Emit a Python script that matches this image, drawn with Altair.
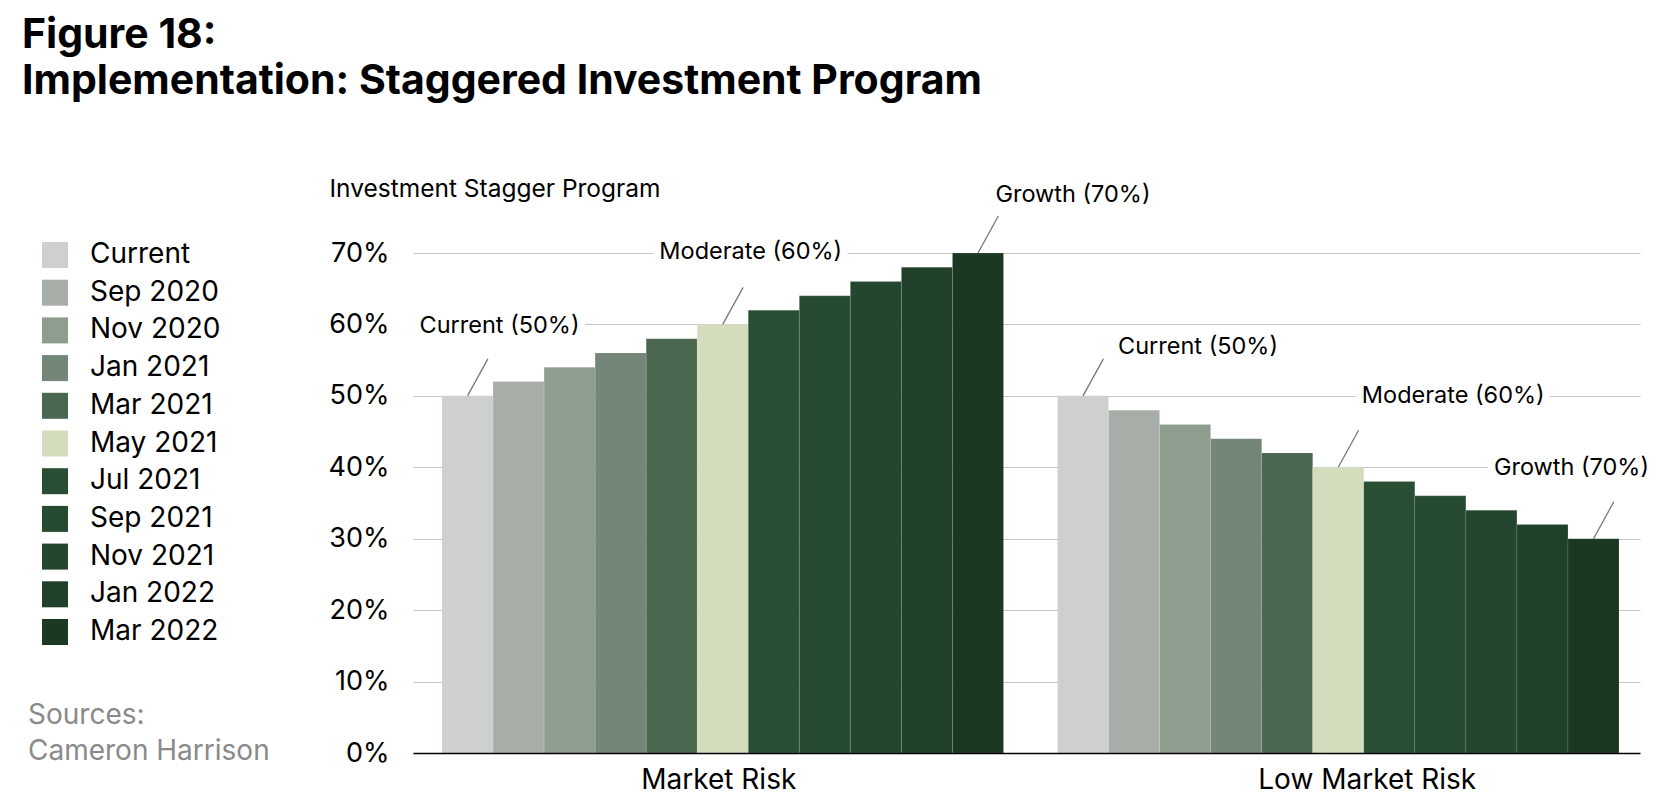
import altair as alt
import pandas as pd

# ---------------- data ----------------
groups = ["Market Risk", "Low Market Risk"]
series = ["Current", "Sep 2020", "Nov 2020", "Jan 2021", "Mar 2021", "May 2021",
          "Jul 2021", "Sep 2021", "Nov 2021", "Jan 2022", "Mar 2022"]
market_risk = [0.50, 0.52, 0.54, 0.56, 0.58, 0.60, 0.62, 0.64, 0.66, 0.68, 0.70]
low_market_risk = [0.50, 0.48, 0.46, 0.44, 0.42, 0.40, 0.38, 0.36, 0.34, 0.32, 0.30]
colors = ["#cdd0cd", "#a7aea7", "#8f9d8f", "#738678", "#4c6750", "#d3ddbe",
          "#284f33", "#264b31", "#24462e", "#21402a", "#1c3822"]
y_ticks = [0.0, 0.1, 0.2, 0.3, 0.4, 0.5, 0.6, 0.7]

ann_group = ["Market Risk", "Market Risk", "Market Risk",
             "Low Market Risk", "Low Market Risk", "Low Market Risk"]
ann_series = ["Current", "May 2021", "Mar 2022", "Current", "May 2021", "Mar 2022"]
ann_label = ["Current (50%)", "Moderate (60%)", "Growth (70%)",
             "Current (50%)", "Moderate (60%)", "Growth (70%)"]

title_lines = ["Figure 18:", "Implementation: Staggered Investment Program"]
y_title = "Investment Stagger Program"
source_lines = ["Sources:", "Cameron Harrison"]

# ---------------- styling offsets (px) ----------------
ann_dx = [32, 28, 95, 115, 115, -22]
ann_dy = [-70, -72, -58, -49, -71, -71]

FONT = "Inter"

rows = []
for s, v in zip(series, market_risk):
    rows.append({"group": groups[0], "series": s, "value": v})
for s, v in zip(series, low_market_risk):
    rows.append({"group": groups[1], "series": s, "value": v})
bars_df = pd.DataFrame(rows)

lookup = {(r["group"], r["series"]): r["value"] for r in rows}
ann_df = pd.DataFrame({
    "group": ann_group,
    "series": ann_series,
    "label": ann_label,
    "value": [lookup[(g, s)] for g, s in zip(ann_group, ann_series)],
})

x_enc = alt.X(
    "group:N", sort=groups, title=None,
    scale=alt.Scale(paddingInner=0.0877, paddingOuter=0.0406, align=0.58),
    axis=alt.Axis(labelAngle=0, labelFontSize=28, labelFont=FONT, labelColor="#000000",
                  labelPadding=13, labelLimit=0, ticks=False, domainColor="#000000",
                  domainWidth=1.5, grid=False, zindex=1,
                  labelOffset=alt.ExprRef("datum.value == 'Low Market Risk' ? 29 : -4")),
)
xo_enc = alt.XOffset("series:N", sort=series,
                     scale=alt.Scale(paddingInner=0, paddingOuter=0))
y_enc = alt.Y(
    "value:Q", scale=alt.Scale(domain=[0, 0.7], nice=False),
    axis=alt.Axis(values=y_ticks, format=".0%", labelFontSize=27, labelFont=FONT,
                  labelColor="#000000", labelPadding=24, ticks=False, domain=False,
                  gridColor="#c6c6c6", gridWidth=1.2,
                  title=y_title, titleAngle=0, titleAlign="left", titleBaseline="alphabetic",
                  titleX=-84, titleY=-57, titleFontSize=24.5, titleFontWeight="normal",
                  titleFont=FONT, titleColor="#000000"),
)

bars = alt.Chart(bars_df).mark_bar(
    stroke="#ffffff", strokeOpacity=0.12, strokeWidth=1
).encode(
    x=x_enc, xOffset=xo_enc, y=y_enc,
    color=alt.Color(
        "series:N", sort=series,
        scale=alt.Scale(domain=series, range=colors),
        legend=alt.Legend(title=None, orient="none", legendX=-372, legendY=-12,
                          direction="vertical", symbolType="square", symbolSize=676,
                          symbolStrokeWidth=0, symbolOpacity=1, labelFontSize=28,
                          labelFont=FONT, labelColor="#000000", labelOffset=21,
                          rowPadding=9.7, padding=0),
    ),
)

leaders = alt.Chart(ann_df).mark_point(
    shape="M0,0L0.55,-1", size=5476, filled=False, stroke="#777777",
    strokeWidth=1.3, opacity=1
).encode(x=x_enc, xOffset=xo_enc, y=y_enc)

layers = [bars, leaders]
for i in range(len(ann_label)):
    sub = ann_df.iloc[[i]]
    halo = alt.Chart(sub).mark_text(
        dx=ann_dx[i], dy=ann_dy[i], fontSize=23.5, font=FONT, align="center",
        baseline="middle", fill="#ffffff", stroke="#ffffff", strokeWidth=16,
        strokeJoin="round"
    ).encode(x=x_enc, xOffset=xo_enc, y=y_enc, text="label:N")
    txt = alt.Chart(sub).mark_text(
        dx=ann_dx[i], dy=ann_dy[i], fontSize=23.5, font=FONT, align="center",
        baseline="middle", color="#000000"
    ).encode(x=x_enc, xOffset=xo_enc, y=y_enc, text="label:N")
    layers += [halo, txt]

# Figure title and sources (placed in the padding area)
title_ys = [-205, -159]
for line, yy in zip(title_lines, title_ys):
    layers.append(
        alt.Chart(pd.DataFrame({"t": [line]})).mark_text(
            align="left", baseline="alphabetic", fontSize=41, fontWeight="bold",
            font=FONT, color="#000000"
        ).encode(x=alt.value(-391), y=alt.value(yy), text="t:N")
    )
source_ys = [471, 507]
for line, yy in zip(source_lines, source_ys):
    layers.append(
        alt.Chart(pd.DataFrame({"t": [line]})).mark_text(
            align="left", baseline="alphabetic", fontSize=28, font=FONT, color="#8a8a8a"
        ).encode(x=alt.value(-385), y=alt.value(yy), text="t:N")
    )

chart = alt.layer(*layers).properties(
    width=1227, height=500,
    autosize=alt.AutoSizeParams(type="none"),
    padding={"left": 405, "top": 245, "right": 10, "bottom": 50},
    background="#ffffff",
).configure_view(stroke=None)

chart.save("out.html", embed_options={"renderer": "svg", "actions": False})
